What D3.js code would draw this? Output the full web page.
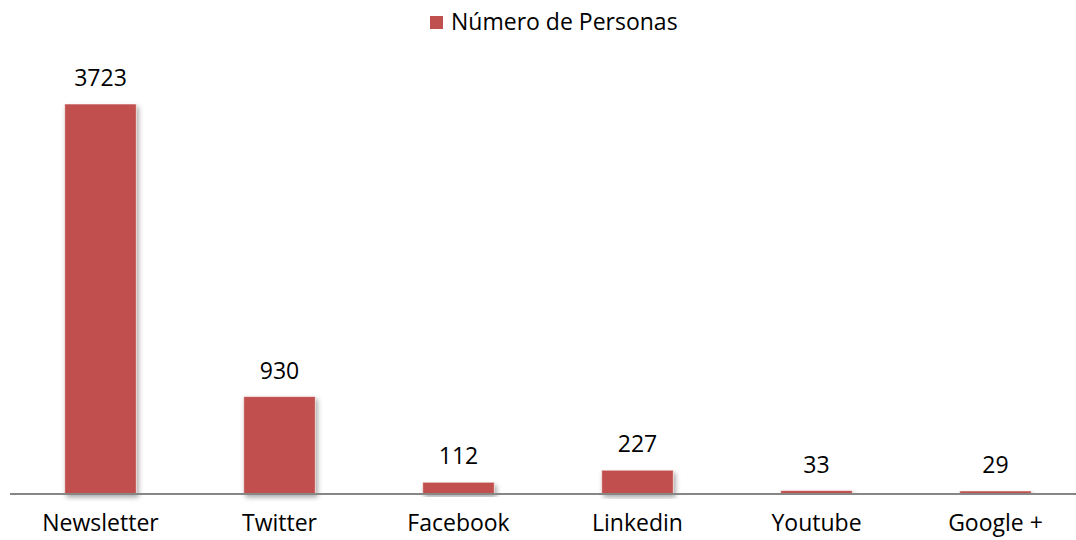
<!DOCTYPE html>
<html>
<head>
<meta charset="utf-8">
<script src="https://cdn.jsdelivr.net/npm/d3@7"></script>
<style>
	body { margin: 0; background: #fff; }
	svg { display: block; font-family: "Open Sans", "Noto Sans", sans-serif; }
</style>
</head>
<body>
<svg id="chart" width="1076" height="540"></svg>
<script>
const categories = ["Newsletter", "Twitter", "Facebook", "Linkedin", "Youtube", "Google +"];
const values = [3723, 930, 112, 227, 33, 29];
const seriesName = "Número de Personas";

const svg = d3.select("svg#chart");
const bounds = { minX: 11, maxX: 1085, minY: 104, maxY: 494 };
const barColor = "#c0504d";
const fontSize = 23;

// drop shadow like the office chart
const defs = svg.append("defs");
defs.append("filter")
	.attr("id", "shadow")
	.attr("x", "-20%").attr("y", "-20%")
	.attr("width", "140%").attr("height", "140%")
	.append("feDropShadow")
	.attr("dx", 2).attr("dy", 3)
	.attr("stdDeviation", 2.5)
	.attr("flood-color", "#000")
	.attr("flood-opacity", 0.35);

const x = d3.scaleBand()
	.domain(categories)
	.range([bounds.minX, bounds.maxX])
	.paddingInner(0.6)
	.paddingOuter(0.3);

const y = d3.scaleLinear()
	.domain([0, d3.max(values)])
	.range([bounds.maxY, bounds.minY]);

const data = categories.map((c, i) => ({ cat: c, value: values[i] }));

svg.append("g")
	.selectAll("rect")
	.data(data)
	.join("rect")
	.attr("x", d => x(d.cat))
	.attr("y", d => y(d.value))
	.attr("width", x.bandwidth())
	.attr("height", d => bounds.maxY - y(d.value))
	.attr("fill", barColor)
	.attr("stroke", "rgba(255,255,255,0.55)")
	.attr("stroke-width", 1)
	.attr("filter", "url(#shadow)");

// axis line
const xAxis = d3.axisBottom(x).tickSize(0).tickPadding(21);
const axisG = svg.append("g")
	.attr("transform", `translate(0 ${bounds.maxY})`)
	.call(xAxis);
axisG.select(".domain")
	.attr("d", `M10,0H1076`)
	.attr("stroke", "#868686")
	.attr("stroke-width", 2);
axisG.selectAll("text")
	.attr("font-size", fontSize)
	.attr("font-family", "\"Open Sans\", sans-serif")
	.attr("fill", "#000");

// value labels
svg.append("g")
	.selectAll("text")
	.data(data)
	.join("text")
	.attr("x", d => x(d.cat) + x.bandwidth() / 2)
	.attr("y", d => y(d.value) - 18)
	.attr("text-anchor", "middle")
	.attr("font-size", fontSize)
	.attr("fill", "#000")
	.text(d => d.value);

// legend
const legend = svg.append("g").attr("transform", "translate(430 16)");
legend.append("rect")
	.attr("width", 13).attr("height", 13)
	.attr("fill", barColor);
legend.append("text")
	.attr("x", 21).attr("y", 14)
	.attr("font-size", fontSize)
	.attr("fill", "#000")
	.text(seriesName);
</script>
</body>
</html>
